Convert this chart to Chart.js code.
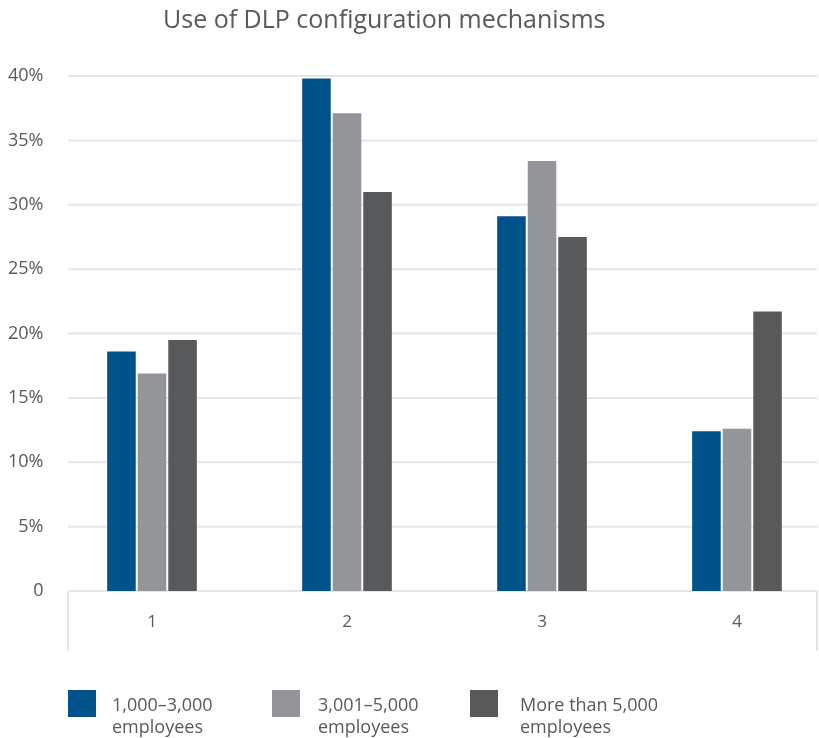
<!DOCTYPE html>
<html>
<head>
<meta charset="utf-8">
<script src="https://cdn.jsdelivr.net/npm/chart.js@4.4.1/dist/chart.umd.min.js"></script>
<style>
  html, body { margin: 0; padding: 0; background: #fff; overflow: hidden; width: 819px; height: 738px; }
  #wrap { position: absolute; left: 0; top: 0; width: 850px; height: 738px; }
  #title { position: absolute; left: 163px; top: 1px; font-family: "Open Sans", sans-serif; font-size: 25px; color: #58595b; white-space: nowrap; }
  #legend { position: absolute; top: 690px; left: 0; font-family: "Open Sans", sans-serif; font-size: 18px; color: #58595b; line-height: 22px; }
  .item { position: absolute; top: 0; white-space: nowrap; }
  .sw { position: absolute; left: 0; top: 0; width: 28px; height: 27px; }
  .tx { position: absolute; top: 3px; }
</style>
</head>
<body>
<div id="wrap"><canvas id="c" width="850" height="738"></canvas></div>
<div id="title">Use of DLP configuration mechanisms</div>
<div id="legend"></div>
<script>
const categories = ["1", "2", "3", "4"];
const seriesNames = [["1,000–3,000", "employees"], ["3,001–5,000", "employees"], ["More than 5,000", "employees"]];
const small = [18.6, 39.8, 29.1, 12.4];
const medium = [16.9, 37.1, 33.4, 12.6];
const large = [19.5, 31.0, 27.5, 21.7];
const yTicks = [0, 5, 10, 15, 20, 25, 30, 35, 40];
const colors = ["#00528a", "#939598", "#58595b"];

const legendPos = [68, 272, 470];
const legendTextPos = [112, 318, 520];
const lg = document.getElementById('legend');
seriesNames.forEach((n, i) => {
  const it = document.createElement('div');
  it.className = 'item';
  it.style.left = legendPos[i] + 'px';
  it.innerHTML = '<div class="sw" style="background:' + colors[i] + '"></div>' +
    '<div class="tx" style="left:' + (legendTextPos[i] - legendPos[i]) + 'px">' + n[0] + '<br>' + n[1] + '</div>';
  lg.appendChild(it);
});

const frame = {
  id: 'frame',
  beforeDatasetsDraw(chart) {
    const ctx = chart.ctx, ca = chart.chartArea, y = chart.scales.y;
    const x0 = ca.left + 13.5, x1 = ca.right - 17.5;
    ctx.save();
    ctx.strokeStyle = '#e6e6e6';
    ctx.lineWidth = 2;
    yTicks.forEach(v => {
      const py = y.getPixelForValue(v);
      ctx.beginPath(); ctx.moveTo(x0, py); ctx.lineTo(x1, py); ctx.stroke();
    });
    const py0 = y.getPixelForValue(0);
    ctx.beginPath();
    ctx.moveTo(x0, py0); ctx.lineTo(x0, py0 + 60);
    ctx.moveTo(x1, py0); ctx.lineTo(x1, py0 + 60);
    ctx.stroke();
    ctx.restore();
  }
};

new Chart(document.getElementById('c'), {
  type: 'bar',
  data: {
    labels: categories,
    datasets: [
      { label: seriesNames[0].join(' '), data: small, backgroundColor: colors[0] },
      { label: seriesNames[1].join(' '), data: medium, backgroundColor: colors[1] },
      { label: seriesNames[2].join(' '), data: large, backgroundColor: colors[2] }
    ]
  },
  options: {
    responsive: false,
    animation: false,
    layout: { padding: { top: 76, right: 15.5, bottom: 87, left: 0 } },
    plugins: { legend: { display: false }, title: { display: false }, tooltip: { enabled: false } },
    datasets: { bar: { categoryPercentage: 0.47, barPercentage: 0.935 } },
    scales: {
      x: {
        grid: { display: false },
        border: { display: false },
        ticks: { color: '#58595b', font: { family: 'Open Sans', size: 17 }, padding: 13 },
        afterFit(s) { s.height = 60; }
      },
      y: {
        min: 0, max: 40,
        grid: { display: false },
        border: { display: false },
        afterFit(s) { s.width = 54.5; },
        afterBuildTicks(s) { s.ticks = yTicks.map(v => ({ value: v })); },
        ticks: {
          color: '#58595b', font: { family: 'Open Sans', size: 18 }, padding: 3,
          callback: v => v === 0 ? '0' : v + '%'
        }
      }
    }
  },
  plugins: [frame]
});
</script>
</body>
</html>
